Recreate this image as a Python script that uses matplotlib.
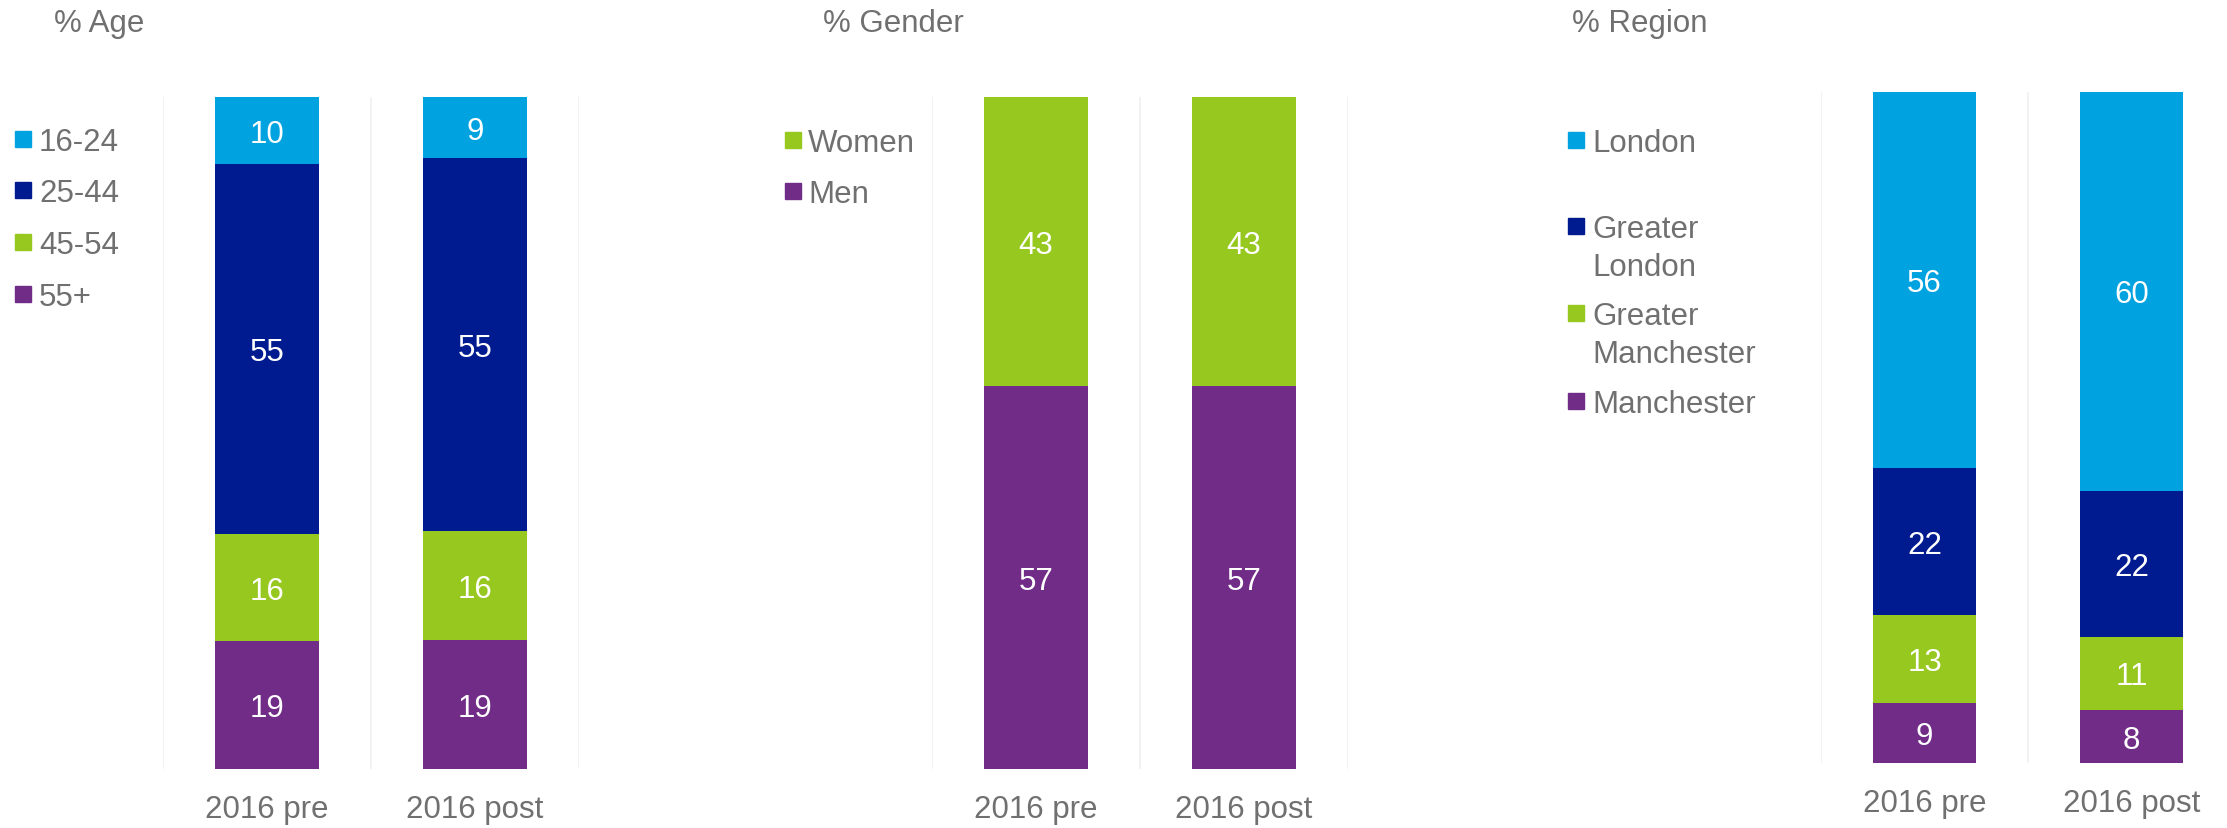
import matplotlib.pyplot as plt
from matplotlib.patches import Rectangle
import numpy as np

plt.rcParams['font.family'] = ['Liberation Sans', 'DejaVu Sans']

# Survey waves shown in each panel
waves = ['2016 pre', '2016 post']

# Age profile (%)
age_groups = ['16-24', '25-44', '45-54', '55+']
age_pre = [10, 55, 16, 19]
age_post = [9, 55, 16, 19]

# Gender profile (%)
gender_groups = ['Women', 'Men']
gender_pre = [43, 57]
gender_post = [43, 57]

# Region profile (%)
region_groups = ['London', 'Greater\nLondon', 'Greater\nManchester', 'Manchester']
region_pre = [56, 22, 13, 9]
region_post = [60, 22, 11, 8]

age_colors = ['#00A3E0', '#001A8F', '#97C81F', '#702C87']
gender_colors = ['#97C81F', '#702C87']
region_colors = ['#00A3E0', '#001A8F', '#97C81F', '#702C87']

GREY = '#707070'
FS = 22.5
W, H = 2227, 829

fig = plt.figure(figsize=(W / 100, H / 100), dpi=100)


def px_axes(left, top, right, bottom):
    return fig.add_axes([left / W, 1 - bottom / H, (right - left) / W, (bottom - top) / H])


def stacked(ax, pre, post, colors):
    data = np.array([pre, post], dtype=float)
    shares = data / data.sum(axis=1, keepdims=True) * 100
    x = np.arange(len(waves))
    base = np.zeros(len(waves))
    # bottom segment is the last group, so walk the groups in reverse
    for i in range(len(pre) - 1, -1, -1):
        ax.bar(x, shares[:, i], bottom=base, width=0.5, color=colors[i], zorder=2)
        for xi, b, s, v in zip(x, base, shares[:, i], data[:, i]):
            ax.annotate(f'{v:g}', (xi, b + s / 2), xytext=(0, -8), textcoords='offset points',
                        ha='center', va='baseline', color='white', fontsize=FS, zorder=3)
        base += shares[:, i]
    for g in (-0.5, 0.5, 1.5):
        ax.axvline(g, color='#F0F0F0', lw=1.2, zorder=1)
    ax.set_xlim(-0.5, 1.5)
    ax.set_ylim(0, 100)
    ax.set_yticks([])
    ax.set_xticks(x)
    ax.set_xticklabels(waves, fontsize=FS, color=GREY)
    ax.tick_params(axis='x', length=0, pad=18)
    for s in ax.spines.values():
        s.set_visible(False)


def legend(x_box, x_text, rows, labels, colors):
    for y, lab, c in zip(rows, labels, colors):
        fig.patches.append(Rectangle((x_box / W, 1 - (y + 8) / H), 16 / W, 16 / H,
                                     transform=fig.transFigure, color=c, figure=fig))
        for k, line in enumerate(lab.split('\n')):
            fig.text(x_text / W, 1 - (y + 11 + 38 * k) / H, line, fontsize=FS, color=GREY,
                     ha='left', va='baseline')


ax_age = px_axes(163, 98, 579, 770)
stacked(ax_age, age_pre, age_post, age_colors)

ax_gender = px_axes(932, 98, 1348, 770)
stacked(ax_gender, gender_pre, gender_post, gender_colors)

ax_region = px_axes(1821, 93, 2235, 764)
stacked(ax_region, region_pre, region_post, region_colors)

# Panel titles
for x, t in [(54, '% Age'), (823, '% Gender'), (1572, '% Region')]:
    fig.text(x / W, 1 - 32 / H, t, fontsize=FS, color=GREY, ha='left', va='baseline')

legend(15, 39, [140, 191, 243, 295], age_groups, age_colors)
legend(785, 808, [141, 192], gender_groups, gender_colors)
legend(1568, 1592, [141, 227, 314, 402], region_groups, region_colors)

fig.savefig('out.png', dpi=100)
plt.close(fig)
